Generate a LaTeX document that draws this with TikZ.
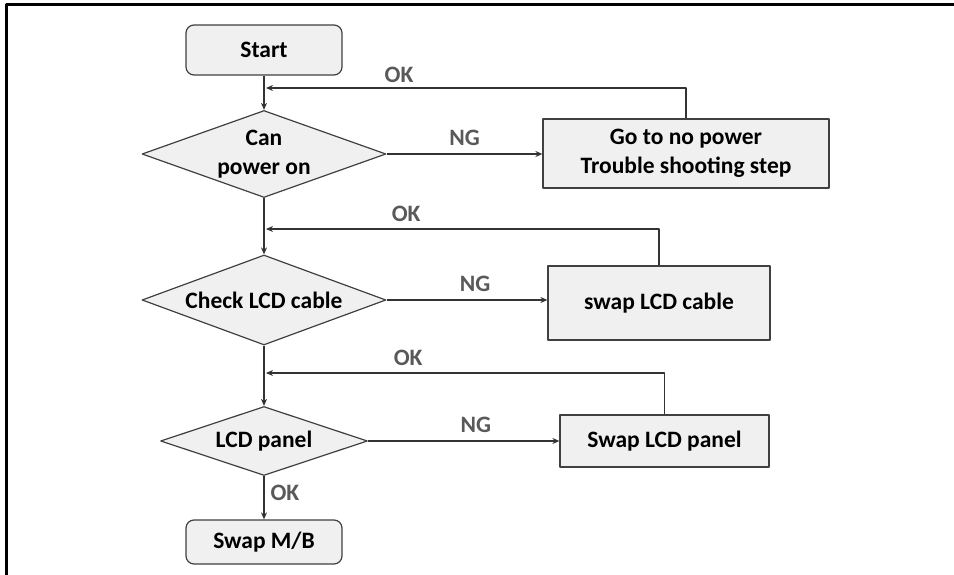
\documentclass[tikz,border=0pt]{standalone}
\usepackage{fontspec}
\setmainfont{Carlito}
\usetikzlibrary{arrows.meta, positioning, shapes.geometric}

\definecolor{boxfill}{HTML}{F0F0F0}
\definecolor{boxline}{HTML}{404040}
\definecolor{taggray}{HTML}{595959}

\begin{document}
\begin{tikzpicture}[x=1pt, y=-1pt, line join=round,
        font=\fontsize{23.5}{29}\selectfont\bfseries,
        startstop/.style={draw=boxline, fill=boxfill, rounded corners=8pt,
                          line width=1.2pt, inner sep=0pt},
        decision/.style={diamond, draw=boxline, fill=boxfill, line width=1.2pt,
                         inner sep=0pt, shape aspect=3, align=center},
        action/.style={rectangle, draw=boxline, fill=boxfill, line width=1.2pt,
                       inner sep=0pt, align=center},
        flow/.style={draw=black!80, line width=1.2pt,
                     -{Stealth[length=7pt, width=6pt]}},
        tag/.style={text=taggray, inner sep=2pt}]
    \useasboundingbox (0, 0) rectangle (954, 575);
    % outer frame (top and left only)
    \draw[line width=3pt] (6, 575) -- (6, 5) -- (954, 5);

    % main column
    \node[startstop, minimum width=156pt, minimum height=50pt] (start) at (264, 50) {Start};
    \node[decision, minimum width=244pt, minimum height=87pt] (d1) at (264, 154) {Can\\power on};
    \node[decision, minimum width=244pt, minimum height=90pt] (d2) at (264, 300) {Check LCD cable};
    \node[decision, minimum width=207pt, minimum height=69pt] (d3) at (264, 441) {LCD panel};
    \node[startstop, minimum width=156pt, minimum height=44pt] (mb) at (264, 542) {Swap M/B};

    % repair steps
    \node[action, minimum width=286pt, minimum height=69pt] (b1) at (686, 153.5) {Go to no power\\Trouble shooting step};
    \node[action, minimum width=222pt, minimum height=74pt] (b2) at (659, 303) {swap LCD cable};
    \node[action, minimum width=209pt, minimum height=52pt] (b3) at (664.5, 441) {Swap LCD panel};

    % where the loops come back
    \coordinate (j1) at (264, 88);
    \coordinate (j2) at (264, 229);
    \coordinate (j3) at (264, 373);

    \draw[flow] (start) -- (d1);
    \draw[flow] (d1) -- (d2);
    \draw[flow] (d2) -- (d3);
    \draw[flow] (d3) -- (mb) node[tag, midway, right=4pt, yshift=5pt] {OK};

    \draw[flow] (d1.east) -- (d1.east -| b1.west) node[tag, midway, above=6pt] {NG};
    \draw[flow] (d2.east) -- (d2.east -| b2.west) node[tag, midway, above=6pt, xshift=8pt] {NG};
    \draw[flow] (d3.east) -- (d3.east -| b3.west) node[tag, midway, above=6pt, xshift=12pt] {NG};

    \draw[flow, shorten >=2pt] (b1.north) |- (j1) node[tag, pos=0.84, above=3pt] {OK};
    \draw[flow, shorten >=2pt] (b2.north) |- (j2) node[tag, pos=0.82, above=5pt] {OK};
    \draw[flow, shorten >=2pt] (b3.north) |- (j3) node[tag, pos=0.82, above=5pt] {OK};
\end{tikzpicture}
\end{document}
